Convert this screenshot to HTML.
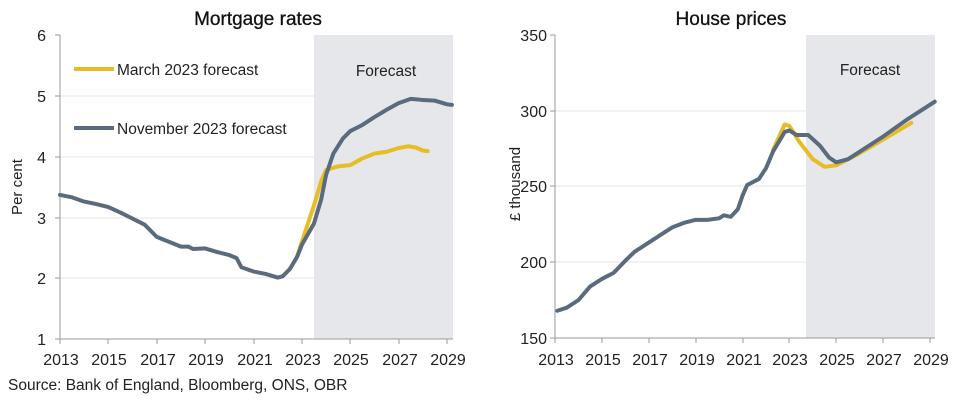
<!DOCTYPE html>
<html><head><meta charset="utf-8"><style>
body{margin:0;background:#fff;}
svg{display:block;font-family:"Liberation Sans",sans-serif;}
</style></head><body>
<svg width="960" height="405" viewBox="0 0 960 405">
<!-- LEFT -->
<rect x="314" y="35" width="139" height="304" fill="#e6e7eb"/>
<g stroke="#e4e4e4" stroke-width="1">
<line x1="60" x2="453" y1="96" y2="96"/><line x1="60" x2="453" y1="157" y2="157"/>
<line x1="60" x2="453" y1="218" y2="218"/><line x1="60" x2="453" y1="278" y2="278"/>
</g>
<g stroke="#999" stroke-width="1">
<line x1="60" y1="35" x2="60" y2="339"/><line x1="60" y1="339" x2="453" y2="339"/>
<line x1="55" x2="60" y1="35" y2="35"/><line x1="55" x2="60" y1="96" y2="96"/><line x1="55" x2="60" y1="157" y2="157"/><line x1="55" x2="60" y1="218" y2="218"/><line x1="55" x2="60" y1="278" y2="278"/><line x1="55" x2="60" y1="339" y2="339"/>
<line x1="60" x2="60" y1="339" y2="344"/><line x1="108" x2="108" y1="339" y2="344"/><line x1="157" x2="157" y1="339" y2="344"/><line x1="205" x2="205" y1="339" y2="344"/><line x1="254" x2="254" y1="339" y2="344"/><line x1="302" x2="302" y1="339" y2="344"/><line x1="350" x2="350" y1="339" y2="344"/><line x1="399" x2="399" y1="339" y2="344"/><line x1="447" x2="447" y1="339" y2="344"/>
</g>
<g font-size="16" fill="#222" text-anchor="end">
<text x="46" y="41">6</text><text x="46" y="102">5</text><text x="46" y="163">4</text><text x="46" y="224">3</text><text x="46" y="284">2</text><text x="46" y="345">1</text>
</g>
<g font-size="16" fill="#222" text-anchor="middle">
<text x="61" y="365">2013</text><text x="109" y="365">2015</text><text x="158" y="365">2017</text><text x="206" y="365">2019</text><text x="255" y="365">2021</text><text x="303" y="365">2023</text><text x="351" y="365">2025</text><text x="400" y="365">2027</text><text x="448" y="365">2029</text>
</g>
<text x="258" y="25" font-size="19" text-anchor="middle" fill="#111" stroke="#111" stroke-width="0.3">Mortgage rates</text>
<text x="22" y="187" font-size="15" text-anchor="middle" fill="#222" transform="rotate(-90 22 187)">Per cent</text>
<text x="386" y="76" font-size="15.5" text-anchor="middle" fill="#222">Forecast</text>
<line x1="74" x2="114" y1="69" y2="69" stroke="#e6bd24" stroke-width="4"/>
<text x="117" y="75" font-size="15.5" fill="#222">March 2023 forecast</text>
<line x1="74" x2="114" y1="128" y2="128" stroke="#5a6b7d" stroke-width="4"/>
<text x="117" y="134" font-size="15.5" fill="#222">November 2023 forecast</text>
<g transform="translate(-48634.47,399.8) scale(24.19,-60.8)" fill="none" stroke-linejoin="round" stroke-linecap="round">
<polyline vector-effect="non-scaling-stroke" stroke="#e6bd24" stroke-width="4" points="2022.8,2.35 2023,2.6 2023.5,3.2 2023.8,3.6 2024,3.78 2024.5,3.84 2025,3.86 2025.5,3.97 2026,4.05 2026.5,4.08 2027,4.14 2027.4,4.17 2027.7,4.15 2028,4.1 2028.2,4.09"/>
<polyline vector-effect="non-scaling-stroke" stroke="#5a6b7d" stroke-width="4" points="2013,3.37 2013.5,3.33 2014,3.26 2014.5,3.22 2015,3.17 2015.5,3.08 2016,2.98 2016.5,2.88 2017,2.68 2017.5,2.6 2018,2.52 2018.3,2.52 2018.5,2.48 2019,2.49 2019.5,2.43 2020,2.38 2020.3,2.33 2020.5,2.18 2021,2.11 2021.5,2.07 2022,2.01 2022.2,2.03 2022.5,2.15 2022.8,2.35 2023,2.55 2023.5,2.9 2023.8,3.3 2024,3.7 2024.3,4.05 2024.7,4.3 2025,4.42 2025.5,4.52 2026,4.65 2026.5,4.77 2027,4.88 2027.5,4.95 2027.8,4.94 2028,4.93 2028.5,4.92 2029,4.86 2029.2,4.85"/>
</g>
<text x="8" y="390" font-size="15.5" fill="#222">Source: Bank of England, Bloomberg, ONS, OBR</text>

<!-- RIGHT -->
<rect x="806" y="35" width="129" height="303" fill="#e6e7eb"/>
<g stroke="#e4e4e4" stroke-width="1">
<line x1="555" x2="935" y1="111" y2="111"/><line x1="555" x2="935" y1="186" y2="186"/><line x1="555" x2="935" y1="262" y2="262"/>
</g>
<g stroke="#999" stroke-width="1">
<line x1="555" y1="35" x2="555" y2="338"/><line x1="555" y1="338" x2="935" y2="338"/>
<line x1="550" x2="555" y1="35" y2="35"/><line x1="550" x2="555" y1="111" y2="111"/><line x1="550" x2="555" y1="186" y2="186"/><line x1="550" x2="555" y1="262" y2="262"/><line x1="550" x2="555" y1="338" y2="338"/>
<line x1="555" x2="555" y1="338" y2="343"/><line x1="602" x2="602" y1="338" y2="343"/><line x1="649" x2="649" y1="338" y2="343"/><line x1="696" x2="696" y1="338" y2="343"/><line x1="743" x2="743" y1="338" y2="343"/><line x1="789" x2="789" y1="338" y2="343"/><line x1="836" x2="836" y1="338" y2="343"/><line x1="883" x2="883" y1="338" y2="343"/><line x1="930" x2="930" y1="338" y2="343"/>
</g>
<g font-size="16" fill="#222" text-anchor="end">
<text x="547" y="41">350</text><text x="547" y="117">300</text><text x="547" y="192">250</text><text x="547" y="268">200</text><text x="547" y="344">150</text>
</g>
<g font-size="16" fill="#222" text-anchor="middle">
<text x="556" y="365">2013</text><text x="603" y="365">2015</text><text x="650" y="365">2017</text><text x="697" y="365">2019</text><text x="744" y="365">2021</text><text x="790" y="365">2023</text><text x="837" y="365">2025</text><text x="884" y="365">2027</text><text x="931" y="365">2029</text>
</g>
<text x="731" y="25" font-size="19" text-anchor="middle" fill="#111" stroke="#111" stroke-width="0.3">House prices</text>
<text x="520" y="184" font-size="15" text-anchor="middle" fill="#222" transform="rotate(-90 520 184)">£ thousand</text>
<text x="870" y="75" font-size="15.5" text-anchor="middle" fill="#222">Forecast</text>
<g transform="translate(-46629.72,565.25) scale(23.44,-1.515)" fill="none" stroke-linejoin="round" stroke-linecap="round">
<polyline vector-effect="non-scaling-stroke" stroke="#e6bd24" stroke-width="4" points="2022.3,274 2022.8,291 2023,290 2023.4,280 2024,268 2024.5,263 2025,264 2026,272 2027,281 2028.2,292"/>
<polyline vector-effect="non-scaling-stroke" stroke="#5a6b7d" stroke-width="4" points="2013.1,168 2013.5,170 2014,175 2014.5,184 2015,189 2015.5,193 2016,201 2016.4,207 2017,213 2017.5,218 2018,223 2018.5,226 2019,228 2019.5,228 2020,229 2020.2,231 2020.5,230 2020.8,235 2021,244 2021.2,251 2021.7,255 2022,262 2022.3,273 2022.8,286 2023,287 2023.3,284 2023.8,284 2024.3,277 2024.7,269 2025,266 2025.5,268 2026,273 2027,283 2028,294 2029.2,306"/>
</g>
</svg>
</body></html>
